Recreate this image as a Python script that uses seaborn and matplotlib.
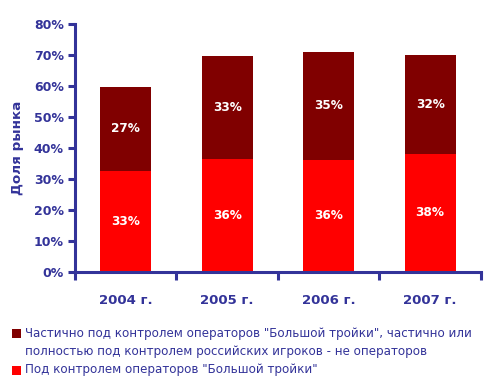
import matplotlib
matplotlib.use("Agg")
import matplotlib.pyplot as plt
import seaborn as sns
import pandas as pd

years = ["2004 г.", "2005 г.", "2006 г.", "2007 г."]
big3 = [32.6, 36.4, 36.2, 38.2]
partial = [27.2, 33.4, 34.8, 31.8]
series_names = [
    "Частично под контролем операторов \"Большой тройки\", частично или\nполностью под контролем российских игроков - не операторов",
    "Под контролем операторов \"Большой тройки\"",
]
y_ticks = [0, 10, 20, 30, 40, 50, 60, 70, 80]

NAVY = "#333399"
DARK = "#800000"
RED = "#FF0000"

sns.set_theme(style="white")
plt.rcParams["font.family"] = ["DejaVu Sans"]

df = pd.DataFrame({"year": years, "big3": big3, "partial": partial})
df["total"] = df["big3"] + df["partial"]

fig = plt.figure(figsize=(4.85, 3.81), dpi=100)
ax = fig.add_axes([0.1546, 0.286, 0.837, 0.651])

sns.barplot(data=df, x="year", y="total", color=DARK, width=0.5, saturation=1,
            linewidth=0, ax=ax)
sns.barplot(data=df, x="year", y="big3", color=RED, width=0.5, saturation=1,
            linewidth=0, ax=ax)

for i, (b, p) in enumerate(zip(big3, partial)):
    ax.text(i, b / 2, f"{round(b):.0f}%", ha="center", va="center",
            color="white", fontsize=8.7, fontweight="bold")
    ax.text(i, b + p / 2, f"{round(p):.0f}%", ha="center", va="center",
            color="white", fontsize=8.7, fontweight="bold")

ax.set_ylim(0, 80)
ax.set_xlim(-0.5, 3.5)
ax.set_yticks(y_ticks)
ax.set_yticklabels([f"{t}%" for t in y_ticks], color=NAVY, fontsize=9, fontweight="bold")
ax.set_xticks(range(len(years)))
ax.set_xticklabels(years, color=NAVY, fontsize=9.5, fontweight="bold")
ax.set_xticks([-0.5, 0.5, 1.5, 2.5, 3.5], minor=True)
ax.tick_params(axis="x", which="major", bottom=False, length=0, pad=16)
ax.tick_params(axis="x", which="minor", bottom=True, length=6, width=2.2, color=NAVY, direction="out")
ax.tick_params(axis="y", which="major", left=True, length=5, width=2.2, color=NAVY, direction="out", pad=3)
ax.set_xlabel("")
ax.set_ylabel("Доля рынка", color=NAVY, fontsize=9.7, fontweight="bold", labelpad=7)

for s in ["top", "right"]:
    ax.spines[s].set_visible(False)
for s in ["left", "bottom"]:
    ax.spines[s].set_color(NAVY)
    ax.spines[s].set_linewidth(2.2)

# legend drawn as figure elements
W, H = 485, 381
legend_colors = [DARK, RED]
legend_y = [333, 370]  # pixel centers of first line
line_gap = 18
for c, name, yc in zip(legend_colors, series_names, legend_y):
    fig.patches.append(plt.Rectangle((12 / W, 1 - (yc + 4.5) / H), 9 / W, 9 / H,
                                     transform=fig.transFigure, facecolor=c,
                                     edgecolor="none"))
    lines = name.split("\n")
    for k, ln in enumerate(lines):
        fig.text(25 / W, 1 - (yc + k * line_gap) / H, ln, ha="left", va="center",
                 color=NAVY, fontsize=8.6)

fig.savefig("out.png", dpi=100)
